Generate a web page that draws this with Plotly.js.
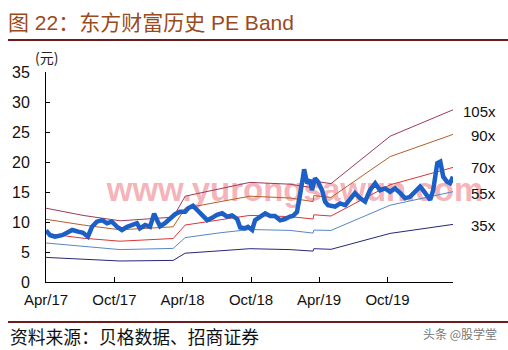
<!DOCTYPE html>
<html>
<head>
<meta charset="utf-8">
<script src="https://cdn.plot.ly/plotly-3.0.1.min.js"></script>
<style>html,body{margin:0;padding:0;background:#fff;}#chart{width:508px;height:350px;}</style>
</head>
<body>
<div id="chart"></div>
<script>
// Price series (元)
const priceDates = ['2017-04-01','2017-04-12','2017-04-25','2017-05-14','2017-05-27','2017-06-10','2017-06-26','2017-07-09','2017-07-22','2017-08-02','2017-08-15','2017-08-29','2017-09-11','2017-09-24','2017-10-08','2017-10-21','2017-11-04','2017-11-17','2017-11-30','2017-12-08','2017-12-22','2018-01-04','2018-01-15','2018-01-23','2018-01-31','2018-02-13','2018-02-27','2018-03-12','2018-03-25','2018-04-08','2018-04-16','2018-04-29','2018-05-10','2018-05-23','2018-06-06','2018-06-19','2018-07-02','2018-07-16','2018-07-29','2018-08-11','2018-08-25','2018-09-02','2018-09-15','2018-09-23','2018-10-04','2018-10-12','2018-10-25','2018-11-08','2018-11-21','2018-12-04','2018-12-18','2018-12-31','2019-01-13','2019-01-21','2019-02-01','2019-02-04','2019-02-09','2019-02-17','2019-02-20','2019-02-28','2019-03-08','2019-03-13','2019-03-21','2019-03-29','2019-04-09','2019-04-17','2019-04-25','2019-05-14','2019-05-27','2019-06-10','2019-06-23','2019-07-06','2019-07-20','2019-08-02','2019-08-15','2019-08-29','2019-09-11','2019-09-24','2019-10-08','2019-10-21','2019-11-04','2019-11-17','2019-11-30','2019-12-14','2019-12-27','2020-01-04','2020-01-15','2020-01-23','2020-01-31','2020-02-11','2020-02-19','2020-02-27','2020-03-08','2020-03-16','2020-03-24'];
const priceValues = [8.6,7.8,7.55,7.8,8.2,8.67,8.4,8.2,7.55,9.2,10.05,10.3,9.8,10.05,9.2,8.67,9.2,9.5,9.8,8.95,9.5,9.2,11.4,10.3,9.3,9.8,10.6,11.3,11.7,11.7,12.3,12.7,12.0,11.2,10.3,10.7,11.2,11.45,10.9,11.1,10.5,9.1,8.95,9.2,8.67,10.3,10.8,11.45,11.0,11.0,10.3,10.5,10.9,11.0,11.7,12.5,14.5,17.5,18.8,16.45,17.0,15.3,17.3,16.7,15.3,13.4,12.8,12.55,13.1,12.8,13.95,14.8,13.95,13.4,15.3,16.45,15.3,15.6,15.05,15.6,14.8,13.95,14.2,15.05,15.9,15.3,14.5,13.7,15.3,19.8,20.05,17.55,16.7,16.45,17.55];

// PE band series
const bandDates = ['2017-04-01','2017-07-09','2017-10-16','2018-03-07','2018-04-08','2018-07-10','2018-09-28','2019-01-13','2019-03-16','2019-03-18','2019-05-03','2019-10-08','2020-03-24'];
const band105 = [12.3,11.1,10.2,10.8,14.3,15.6,16.6,16.3,15.7,16.8,16.4,24.3,28.7];
const band90  = [10.45,9.5,8.7,9.2,12.3,13.4,14.3,14.0,13.4,14.4,14.1,20.9,24.6];
const band70  = [8.1,7.3,6.8,7.25,9.5,10.4,11.1,10.9,10.5,11.2,11.0,16.2,19.1];
const band55  = [6.5,5.9,5.4,5.6,7.4,8.2,8.75,8.6,8.15,8.65,8.6,12.8,15.05];
const band35  = [4.1,3.75,3.5,3.6,4.8,5.2,5.55,5.4,5.15,5.55,5.45,8.1,9.6];

const bandNames = ['105x','90x','70x','55x','35x'];
const bandColors = ['#9b3a5c','#b5602a','#d93636','#5a86c4','#262678'];
const bandSeries = [band105, band90, band70, band55, band35];

const xTickVals = ['2017-04-01','2017-10-01','2018-04-01','2018-10-01','2019-04-01','2019-10-01'];
const xTickText = ['Apr/17','Oct/17','Apr/18','Oct/18','Apr/19','Oct/19'];

const traces = bandSeries.map((s, i) => ({
  x: bandDates, y: s, type: 'scatter', mode: 'lines', name: bandNames[i],
  line: {color: bandColors[i], width: 1}, hoverinfo: 'skip'
}));
traces.push({
  x: priceDates, y: priceValues, type: 'scatter', mode: 'lines', name: '股价',
  line: {color: '#1c5fc6', width: 4.5}
});

// paper helpers: plot area px 46..453 (x), 72..282 (y)
const px = v => (v - 46) / 407;
const py = v => (282 - v) / 210;

const latin = 'Liberation Sans, Arial, sans-serif';
const cjk = 'Liberation Sans, Noto Sans CJK SC, sans-serif';

const annotations = [
  {xref:'paper', yref:'paper', x: px(33), y: py(57), xanchor:'left', yanchor:'middle', showarrow:false,
   text:'(元)', font:{family:'Noto Sans CJK SC', size:14, color:'#222'}},
  {xref:'paper', yref:'paper', x: px(8), y: py(336), xanchor:'left', yanchor:'middle', showarrow:false,
   text:'资料来源：贝格数据、招商证券', font:{family:'Noto Sans CJK SC', size:17.8, color:'#111'}},
  {xref:'paper', yref:'paper', x: px(499), y: py(333), xanchor:'right', yanchor:'middle', showarrow:false,
   text:'头条 @股学堂', font:{family:'Noto Sans CJK SC', size:12, color:'#777'}}
];
const labelY = [111, 135.7, 167.7, 193.3, 225.7];
bandNames.forEach((n, i) => annotations.push({
  xref:'paper', yref:'paper', x: px(498), y: py(labelY[i]), xanchor:'right', yanchor:'middle',
  showarrow:false, text:n, font:{family:latin, size:15, color:'#111'}
}));

const layout = {
  width: 508, height: 350,
  margin: {l:46, r:55, t:72, b:68, pad:0},
  paper_bgcolor:'#fff', plot_bgcolor:'#fff',
  showlegend:false,
  title: {text:'图 22：东方财富历史 PE Band', x: 8/508, xanchor:'left', y: 1 - 23/350, yanchor:'middle',
          font:{family:cjk, size:21, color:'#9a4a20'}},
  xaxis: {type:'date', range:['2017-04-01','2020-03-24'], tickvals:xTickVals, ticktext:xTickText,
          ticks:'inside', ticklen:5, tickcolor:'#000', showline:true, linecolor:'#000', linewidth:1,
          showgrid:false, zeroline:false, ticklabelstandoff:4,
          tickfont:{family:latin, size:15, color:'#111'}},
  yaxis: {range:[0,35], dtick:5, tick0:0, ticks:'inside', ticklen:4, tickcolor:'#000',
          showline:true, linecolor:'#000', linewidth:1, showgrid:false, zeroline:false,
          ticklabelstandoff:12, tickfont:{family:latin, size:16, color:'#111'}},
  annotations: annotations,
  shapes: [
    {type:'line', xref:'paper', yref:'paper', x0:px(8), x1:px(508), y0:py(40), y1:py(40),
     line:{color:'#6e1c1c', width:2}},
    {type:'line', xref:'paper', yref:'paper', x0:px(8), x1:px(508), y0:py(322), y1:py(322),
     line:{color:'#6e1c1c', width:2}},
    {type:'rect', xref:'paper', yref:'paper', x0:px(100), x1:px(490), y0:py(203), y1:py(170),
     layer:'below', line:{width:0}, fillcolor:'rgba(0,0,0,0)',
     label:{text:'www.yurongsawun.com', textposition:'middle center',
            font:{family:'Liberation Sans, sans-serif', size:33, color:'rgba(242,160,166,0.8)', weight:'bold'}}}
  ]
};

Plotly.newPlot('chart', traces, layout, {staticPlot:true, displayModeBar:false});
</script>
</body>
</html>
